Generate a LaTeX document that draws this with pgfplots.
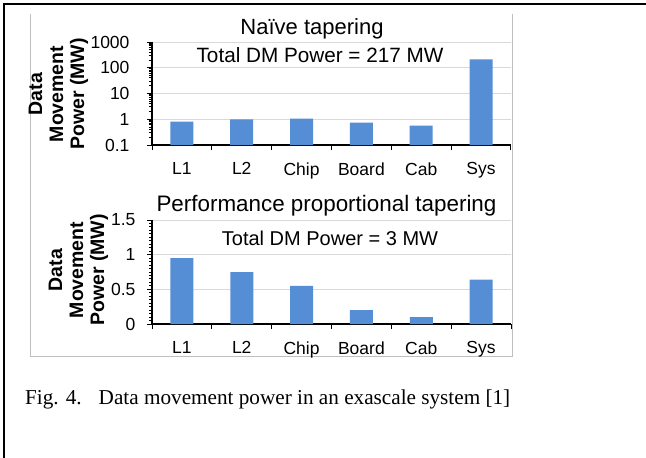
\documentclass[border=0pt]{standalone}
\usepackage{pgfplots}
\pgfplotsset{compat=1.18}
\usepackage{fontspec}
\setmainfont{Liberation Sans}
\newfontfamily\capfont{Liberation Serif}
\definecolor{barblue}{RGB}{85,142,213}
\definecolor{gridgray}{RGB}{217,217,217}
\pgfplotsset{
  dmstyle/.style={
    scale only axis, width=359pt,
    axis x line=bottom, axis y line=left,
    axis line style={-, black, line width=1.2pt},
    xmin=-0.5, xmax=5.5,
    xtick={-0.5,0.5,1.5,2.5,3.5,4.5,5.5},
    x tick label as interval,
    xticklabels={L1,L2,Chip,Board,Cab,Sys},
    xtick align=outside, ytick align=outside,
    major tick length=5pt, minor tick length=3pt,
    every tick/.style={draw=black, line width=1pt},
    xtick style={draw=black, line width=1pt},
    ytick style={draw=black, line width=1pt},
    ymajorgrids, xmajorgrids=false,
    major grid style={gridgray, line width=1pt},
    tick label style={font=\fontsize{17.5}{17.5}\selectfont},
    xticklabel style={yshift=-9pt},
    /pgf/number format/assume math mode=true,
    clip=false,
  }
}
\begin{document}
\begin{tikzpicture}[x=1pt,y=1pt]
\useasboundingbox (0,0) rectangle (646,-458);
\draw[line width=1.6pt] (4,-458) -- (4,-4) -- (646,-4);
\draw[black!25, line width=0.8pt] (30,-14) -- (30,-356) -- (512,-356) -- (512,-14);

\begin{axis}[dmstyle,
  at={(152pt,-145pt)}, anchor=south west, height=103pt,
  ymode=log, ymin=0.1, ymax=1000, log origin=infty,
  ytick={0.1,1,10,100,1000},
  yticklabels={0.1,1,10,100,1000},
  yticklabel style={xshift=-14pt},
  minor ytick={0.2,0.3,0.4,0.5,0.6,0.7,0.8,0.9,2,3,4,5,6,7,8,9,20,30,40,50,60,70,80,90,200,300,400,500,600,700,800,900},
]
\addplot[ybar, bar width=23pt, fill=barblue, draw=none]
  coordinates {(0,0.8) (1,1.0) (2,1.05) (3,0.74) (4,0.56) (5,212)};
\end{axis}

\begin{axis}[dmstyle,
  at={(152pt,-324pt)}, anchor=south west, height=104pt,
  ymin=0, ymax=1.5,
  ytick={0,0.5,1,1.5},
  yticklabels={0,0.5,1,1.5},
  yticklabel style={xshift=-8pt},
  minor y tick num=9,
]
\addplot[ybar, bar width=23pt, fill=barblue, draw=none]
  coordinates {(0,0.95) (1,0.75) (2,0.55) (3,0.2) (4,0.1) (5,0.64)};
\end{axis}

\node[font=\fontsize{22}{22}\selectfont, anchor=base] at (312,-34) {Naïve tapering};
\node[font=\fontsize{20.7}{20.7}\selectfont, anchor=base] at (320,-62) {Total DM Power = 217 MW};
\node[font=\fontsize{22.4}{22.4}\selectfont, anchor=base] at (326.5,-211) {Performance proportional tapering};
\node[font=\fontsize{20}{20}\selectfont, anchor=base] at (330,-245) {Total DM Power = 3 MW};

\begin{scope}[every node/.style={rotate=90, anchor=center, inner sep=0pt, text height=0.72em, text depth=0pt, font=\bfseries\fontsize{19.5}{19.5}\selectfont}]
\node at (38.5,-94) {Data};
\node at (59.5,-94) {Movement};
\node at (80.5,-94) {Power (MW)};
\node at (58.5,-270) {Data};
\node at (79.5,-270) {Movement};
\node at (100.5,-270) {Power (MW)};
\end{scope}

\node[anchor=base west, inner sep=0pt, font=\capfont\fontsize{21.2}{21.2}\selectfont] at (25,-404) {Fig. 4.\hspace{17pt}Data movement power in an exascale system [1]};
\end{tikzpicture}
\end{document}
